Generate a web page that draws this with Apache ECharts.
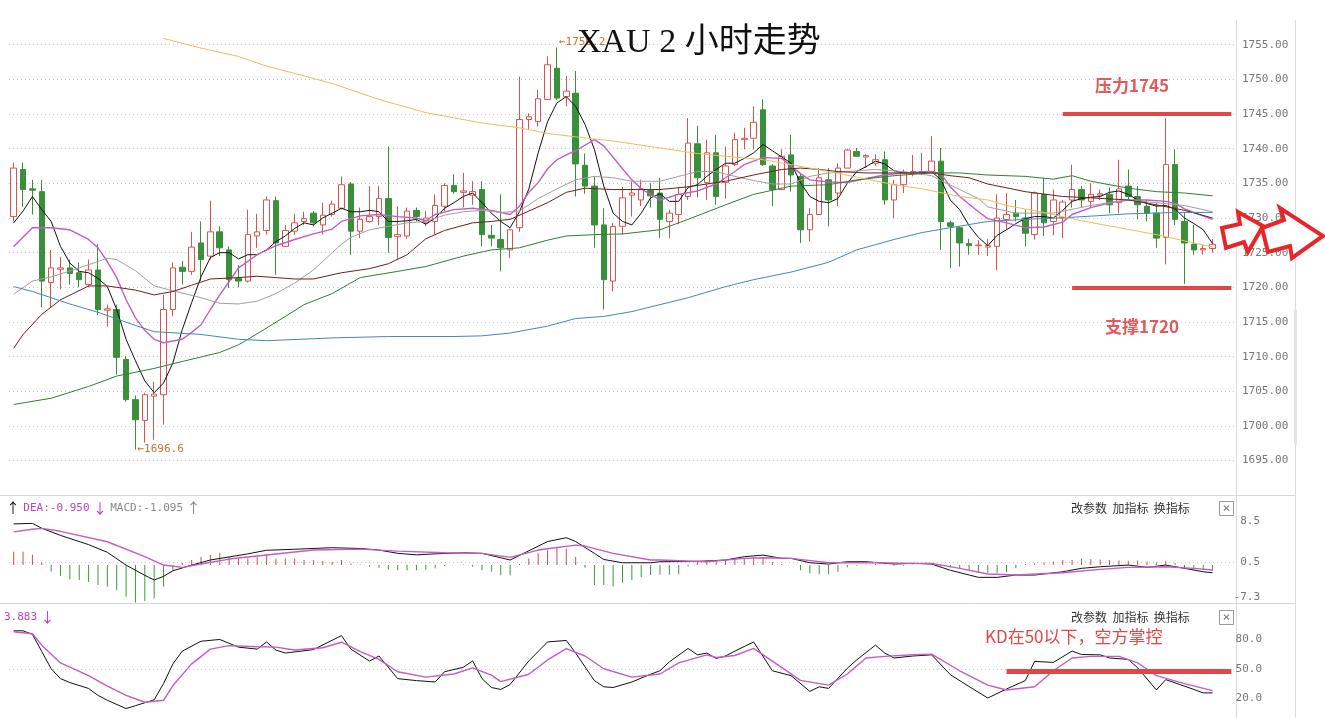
<!DOCTYPE html>
<html><head><meta charset="utf-8">
<script src="https://cdn.jsdelivr.net/npm/echarts@6/dist/echarts.min.js"></script>
<style>html,body{margin:0;padding:0;background:#fff}#c{width:1325px;height:718px}</style>
</head><body><div id="c"></div><script>
// ---- data: [open, close, low, high] ----
const ohlc = [
[1730.2,1737.2,1729.5,1738.0],[1737.0,1734.1,1731.6,1738.0],[1734.2,1734.0,1730.5,1735.5],[1733.8,1720.9,1717.1,1735.5],[1720.7,1722.8,1717.1,1725.4],
[1722.6,1722.8,1719.7,1724.4],[1722.8,1722.0,1720.4,1724.0],[1722.1,1721.1,1720.0,1723.6],[1720.4,1722.5,1720.0,1724.0],[1722.5,1716.8,1716.0,1726.2],
[1716.7,1716.9,1714.3,1717.5],[1716.8,1709.9,1707.4,1717.5],[1709.6,1703.8,1703.5,1710.1],[1703.8,1700.9,1696.6,1704.4],[1700.8,1704.5,1697.6,1704.8],
[1704.3,1704.6,1698.0,1706.4],[1704.5,1716.8,1700.2,1718.9],[1716.8,1722.8,1715.8,1723.6],[1722.9,1722.3,1720.4,1723.8],[1722.3,1725.8,1721.8,1728.0],
[1726.4,1724.0,1720.9,1729.5],[1724.5,1728.0,1724.0,1732.5],[1728.0,1725.7,1724.5,1728.8],[1725.4,1721.1,1719.9,1725.9],[1721.3,1720.9,1720.0,1723.2],
[1720.9,1727.6,1720.7,1731.2],[1727.4,1728.0,1725.7,1730.6],[1728.2,1732.6,1727.6,1733.1],[1732.5,1726.4,1721.8,1733.1],[1725.9,1728.2,1725.9,1729.0],
[1728.1,1729.3,1727.6,1730.6],[1729.5,1729.9,1729.0,1730.9],[1730.7,1729.3,1728.8,1731.0],[1729.0,1730.4,1727.6,1732.2],[1730.5,1732.0,1730.2,1732.5],
[1731.4,1734.8,1731.2,1736.0],[1734.9,1728.1,1724.7,1735.2],[1728.1,1729.8,1727.1,1731.5],[1729.5,1730.2,1729.3,1734.6],[1730.2,1732.8,1729.0,1734.6],
[1732.8,1727.2,1725.0,1740.3],[1727.3,1727.6,1724.0,1731.7],[1727.4,1731.0,1727.0,1731.5],[1731.1,1730.2,1729.5,1731.5],[1729.3,1730.0,1728.8,1731.0],
[1729.5,1731.8,1727.6,1733.4],[1731.7,1734.7,1731.0,1735.0],[1734.7,1733.8,1733.5,1736.3],[1733.7,1733.9,1731.5,1736.5],[1733.3,1733.8,1731.9,1735.3],
[1734.1,1727.6,1725.9,1735.3],[1727.5,1727.1,1725.9,1729.0],[1726.9,1725.7,1722.3,1733.4],[1725.4,1728.3,1724.2,1728.5],[1728.6,1744.2,1728.0,1750.4],
[1744.2,1744.6,1742.7,1745.1],[1743.9,1747.2,1743.2,1748.5],[1747.1,1752.1,1747.0,1753.3],[1751.6,1747.3,1747.0,1754.6],[1747.5,1748.3,1746.1,1750.5],
[1748.0,1737.8,1733.1,1751.2],[1737.6,1734.6,1733.5,1739.3],[1734.6,1729.0,1725.7,1736.0],[1729.0,1721.1,1716.8,1731.4],[1720.9,1728.8,1719.4,1729.3],
[1728.8,1732.9,1727.6,1734.5],[1733.3,1733.6,1730.2,1735.3],[1732.6,1734.2,1731.7,1735.5],[1734.0,1733.2,1731.5,1735.0],[1733.6,1729.8,1727.1,1735.8],
[1729.5,1730.7,1727.1,1731.2],[1730.5,1733.4,1729.1,1734.4],[1733.1,1740.8,1732.6,1744.4],[1740.7,1735.8,1733.0,1743.3],[1735.1,1739.4,1732.6,1741.3],
[1739.4,1733.1,1731.9,1742.0],[1735.1,1737.5,1732.8,1740.3],[1737.7,1741.3,1737.5,1742.3],[1741.3,1741.5,1739.9,1743.0],[1741.5,1743.8,1739.9,1746.1],
[1745.6,1737.7,1737.5,1747.1],[1737.5,1734.1,1731.7,1737.8],[1734.1,1738.9,1734.0,1739.9],[1739.1,1736.2,1733.8,1742.0],[1736.0,1728.3,1726.4,1736.5],
[1728.3,1730.5,1726.6,1731.4],[1730.5,1735.8,1730.5,1737.2],[1735.5,1732.6,1728.8,1737.2],[1733.6,1737.2,1731.7,1737.9],[1737.2,1739.8,1737.2,1740.0],
[1739.6,1738.9,1738.9,1740.1],[1738.8,1739.0,1737.2,1739.2],[1737.9,1738.4,1737.5,1739.2],[1738.4,1732.6,1731.9,1739.6],[1732.6,1734.8,1730.0,1735.5],
[1734.8,1736.5,1733.6,1737.0],[1736.4,1736.7,1736.0,1739.1],[1736.5,1736.7,1736.2,1739.4],[1736.7,1738.2,1736.4,1741.8],[1738.2,1729.5,1725.4,1740.1],
[1729.3,1728.8,1722.8,1729.6],[1728.6,1726.4,1723.0,1728.8],[1726.3,1726.0,1724.7,1727.0],[1726.0,1726.1,1724.7,1726.8],[1725.8,1726.0,1724.5,1727.0],
[1725.9,1730.0,1722.5,1733.4],[1729.8,1730.5,1728.3,1733.6],[1730.7,1730.2,1729.5,1732.6],[1730.0,1727.8,1725.9,1731.2],[1727.6,1733.6,1726.9,1733.8],
[1733.4,1729.3,1727.4,1735.8],[1729.5,1732.6,1727.5,1734.1],[1730.0,1732.3,1727.1,1732.6],[1732.6,1734.1,1731.5,1737.7],[1734.1,1732.6,1731.5,1734.6],
[1732.4,1733.4,1731.5,1735.0],[1733.3,1733.5,1732.6,1734.1],[1733.4,1731.9,1730.7,1734.4],[1732.2,1734.2,1730.7,1738.4],[1734.6,1733.1,1732.6,1737.0],
[1733.1,1731.9,1729.8,1734.6],[1731.7,1730.7,1729.5,1732.6],[1730.7,1727.1,1725.7,1732.2],[1727.2,1737.7,1723.3,1744.4],[1737.7,1729.8,1729.0,1739.9],
[1729.5,1726.4,1720.5,1730.7],[1726.2,1725.4,1724.7,1729.0],[1725.4,1725.6,1724.7,1726.2],[1725.6,1726.2,1725.0,1727.0]
];
const ma5 = [1729.3,1731.0,1733.1,1731.2,1729.5,1725.9,1723.5,1722.3,1722.1,1721.3,
1720.1,1716.8,1712.5,1709.4,1706.5,1704.8,1706.2,1709.1,1713.9,1717.8,
1721.5,1724.3,1725.0,1725.0,1724.1,1724.7,1724.7,1725.4,1726.6,1727.4,
1728.5,1729.3,1729.0,1730.0,1730.7,1731.4,1730.9,1730.9,1731.1,1730.9,
1729.5,1729.5,1729.6,1729.8,1729.1,1730.0,1731.4,1732.2,1733.1,1733.6,
1732.2,1730.7,1729.5,1728.6,1730.9,1734.2,1739.4,1743.9,1746.6,1747.5,
1746.1,1743.5,1739.9,1734.6,1730.7,1729.5,1729.0,1730.7,1732.9,1733.5,
1732.4,1732.4,1734.4,1734.8,1736.0,1737.0,1737.9,1737.9,1738.6,1739.4,
1740.6,1739.7,1738.8,1737.9,1735.1,1733.1,1732.4,1732.2,1732.8,1735.0,
1736.7,1737.4,1738.2,1737.8,1736.8,1736.5,1736.5,1736.5,1736.7,1735.5,
1732.6,1731.2,1728.9,1727.2,1726.0,1727.5,1728.3,1729.2,1729.9,1730.2,
1730.2,1730.0,1731.1,1732.4,1732.8,1733.0,1733.1,1733.7,1733.9,1733.4,
1732.6,1732.1,1731.7,1731.8,1731.3,1730.0,1729.2,1728.3,1726.3];
// [candle index, value] readings
const ma10 = [[0,1725.9],[2,1728.6],[4,1728.6],[6,1728.3],[8,1726.9],[9,1725.7],[10,1723.7],[11,1721.4],[12,1718.2],[13,1715.6],[14,1713.8],[15,1712.5],[16,1712.0],[18,1712.5],[19,1713.5],[20,1714.6],[21,1716.8],[22,1718.9],[23,1720.8],[24,1722.8],[26,1724.7],[28,1726.0],[30,1726.9],[32,1727.7],[34,1728.4],[35,1729.5],[37,1730.3],[39,1730.5],[41,1730.2],[43,1730.0],[44,1729.6],[45,1730.5],[47,1731.2],[49,1731.4],[51,1731.1],[53,1730.5],[54,1731.7],[55,1733.7],[56,1735.1],[57,1737.1],[58,1738.4],[59,1739.1],[60,1739.7],[62,1741.3],[63,1740.4],[65,1737.1],[66,1735.5],[67,1734.2],[69,1732.6],[71,1733.4],[73,1733.9],[75,1734.9],[77,1736.7],[78,1737.7],[80,1738.7],[82,1738.6],[84,1736.4],[85,1735.5],[87,1735.2],[89,1735.1],[91,1735.7],[93,1736.2],[95,1736.5],[98,1736.7],[99,1736.4],[100,1734.5],[101,1733.1],[103,1730.9],[104,1729.9],[106,1729.3],[108,1728.6],[110,1728.7],[112,1729.4],[113,1730.5],[115,1731.5],[117,1732.2],[119,1732.6],[121,1732.6],[123,1732.4],[124,1732.1],[125,1731.3],[126,1730.8],[127,1730.3],[128,1729.8]];
const ma20 = [[0,1719.0],[2,1720.9],[4,1721.5],[7,1722.8],[10,1724.2],[11,1724.0],[13,1722.4],[15,1720.2],[17,1719.5],[20,1718.5],[22,1717.7],[24,1717.6],[26,1718.0],[28,1719.1],[30,1720.6],[32,1722.5],[34,1725.0],[35,1726.2],[36,1727.2],[38,1728.3],[40,1728.8],[42,1729.3],[44,1729.5],[46,1730.4],[48,1730.9],[50,1731.1],[52,1730.8],[54,1731.0],[56,1732.8],[58,1734.2],[60,1735.5],[62,1736.0],[64,1735.8],[66,1735.3],[69,1735.3],[71,1736.0],[73,1736.7],[75,1736.7],[77,1736.0],[79,1735.4],[81,1734.9],[83,1734.9],[85,1736.0],[87,1736.5],[89,1736.7],[92,1737.0],[95,1736.7],[98,1736.1],[99,1735.4],[101,1734.1],[103,1732.8],[104,1731.6],[107,1730.7],[111,1730.7],[115,1731.8],[119,1732.6],[122,1732.2],[125,1731.8],[128,1730.9]];
const ma30 = [[0,1711.2],[1,1713.2],[3,1716.1],[5,1718.2],[8,1720.2],[10,1720.2],[13,1719.6],[15,1718.9],[17,1719.4],[19,1720.3],[21,1721.2],[24,1721.4],[26,1721.6],[28,1721.4],[30,1721.2],[32,1721.2],[35,1722.1],[38,1722.7],[40,1723.4],[42,1724.7],[44,1727.0],[46,1728.2],[49,1729.3],[51,1729.5],[53,1729.8],[55,1731.0],[57,1732.2],[59,1733.7],[61,1734.3],[64,1734.1],[69,1734.1],[72,1734.5],[76,1735.3],[79,1736.2],[82,1737.0],[84,1737.2],[86,1737.0],[88,1736.7],[91,1736.5],[98,1736.5],[100,1736.1],[102,1735.8],[104,1734.9],[108,1733.8],[112,1733.1],[115,1732.9],[119,1732.6],[122,1731.9],[125,1731.1],[128,1730.0]];
const ma60 = [[0,1703.1],[4,1704.0],[8,1705.7],[11,1707.2],[15,1708.3],[18,1709.3],[22,1710.6],[24,1711.7],[26,1713.3],[29,1715.8],[31,1717.5],[34,1719.1],[37,1721.4],[41,1722.3],[44,1723.0],[48,1724.5],[51,1725.4],[54,1725.7],[57,1726.8],[59,1727.4],[62,1727.6],[65,1727.7],[69,1728.3],[72,1729.8],[76,1731.9],[79,1733.4],[83,1734.6],[87,1734.8],[90,1735.5],[94,1736.1],[98,1736.5],[101,1736.5],[104,1736.2],[108,1736.0],[111,1735.6],[113,1736.1],[115,1735.3],[119,1734.3],[122,1733.8],[125,1733.6],[128,1733.2]];
const ma120 = [[0,1720.1],[2,1719.4],[6,1717.6],[9,1716.4],[13,1714.5],[15,1713.6],[20,1713.2],[24,1712.5],[27,1712.3],[34,1712.7],[40,1712.9],[47,1712.9],[50,1713.0],[53,1713.4],[57,1714.4],[60,1715.5],[63,1715.8],[66,1716.5],[69,1717.5],[72,1718.5],[76,1720.1],[79,1721.1],[83,1722.2],[87,1723.6],[90,1725.4],[94,1726.9],[97,1727.9],[100,1728.6],[104,1729.5],[108,1729.8],[113,1730.1],[119,1730.6],[124,1730.8],[128,1730.8]];
const ma250 = [[16,1755.9],[20,1754.5],[24,1753.3],[27,1751.9],[31,1750.5],[34,1749.4],[39,1747.1],[44,1745.2],[50,1743.7],[54,1743.0],[57,1742.2],[60,1741.7],[64,1741.1],[69,1740.1],[73,1739.3],[76,1738.9],[80,1738.4],[83,1737.7],[87,1736.7],[90,1735.9],[94,1734.8],[97,1734.2],[101,1733.1],[104,1732.6],[106,1731.8],[110,1730.8],[114,1729.6],[118,1728.6],[122,1727.6],[125,1726.7],[128,1725.8]];
const macdHist = [2.6,2.6,2.0,0.5,-1.3,-2.1,-2.8,-2.9,-3.3,-3.9,
-4.2,-4.9,-6.2,-7.4,-7.0,-6.5,-4.2,-1.0,0.4,1.0,
1.6,2.0,2.4,1.6,1.3,1.3,1.6,2.1,1.3,1.3,
1.3,1.0,1.0,0.85,0.65,1.0,0.3,0.1,-0.3,-0.5,
-0.85,-1.0,-1.0,-1.0,-0.9,-0.6,-0.2,0.0,0.1,-0.3,
-1.0,-1.3,-2.0,-2.0,0.2,1.3,2.3,2.9,3.45,3.25,
1.6,-0.5,-3.9,-3.9,-4.2,-3.45,-2.9,-2.3,-1.95,-1.9,
-1.9,-1.8,-0.2,0.6,1.0,1.0,1.0,1.1,1.3,1.6,
1.3,0.6,0.2,0.0,-1.0,-1.6,-1.8,-1.8,-1.3,-0.4,
-0.1,0.1,0.2,0.1,-0.1,-0.1,0.1,0.0,0.1,-0.2,
-0.4,-0.6,-1.0,-1.5,-1.6,-1.6,-1.4,-0.6,0.2,0.3,
0.5,0.7,1.0,1.0,1.3,1.2,1.1,1.0,0.9,0.8,
0.9,0.7,0.5,0.8,0.4,-0.6,-0.8,-1.0,-1.1];
const difPts = [[0,8.05],[2,8.15],[3,7.2],[5,5.8],[8,4.0],[10,2.5],[12,0.0],[14,-2.0],[15,-2.9],[16,-2.2],[17,-1.1],[19,0.0],[21,1.0],[23,1.6],[25,2.2],[27,2.9],[30,3.1],[34,3.4],[37,3.25],[39,2.94],[41,2.3],[43,2.0],[45,2.2],[48,2.4],[50,2.3],[53,1.0],[55,2.8],[57,4.6],[59,5.35],[60,4.6],[62,2.3],[63,1.1],[65,0.46],[68,0.46],[69,0.66],[72,0.7],[74,0.8],[76,1.0],[78,1.64],[80,1.96],[82,1.32],[83,1.32],[85,0.46],[87,0.21],[89,0.66],[91,0.66],[94,0.21],[96,0.34],[98,0.21],[100,-1.0],[103,-2.39],[105,-2.39],[107,-1.94],[109,-1.94],[112,-1.3],[114,-0.63],[116,-0.32],[119,0.01],[121,-0.44],[123,0.01],[125,-0.63],[127,-1.3],[128,-1.5]];
const deaPts = [[0,6.5],[2,7.0],[3,7.17],[5,6.6],[10,4.56],[14,1.64],[16,0.01],[18,-0.44],[20,0.21],[23,1.18],[28,2.16],[32,2.94],[37,3.13],[41,2.74],[46,2.41],[50,2.29],[53,1.51],[56,2.94],[60,3.91],[61,3.72],[64,2.29],[68,0.99],[69,0.99],[74,0.66],[78,1.32],[80,1.44],[83,1.32],[87,0.46],[92,0.46],[96,0.34],[98,0.34],[101,-0.63],[104,-1.74],[107,-1.94],[112,-1.49],[116,-0.83],[119,-0.44],[123,-0.32],[126,-0.63],[128,-0.95]];
const kPts = [[0,88.6],[1,88.6],[2,85.0],[3,67.5],[4,50],[5,40],[6,36],[8,30],[9,23],[10,18],[12,9.6],[13,12.5],[15,18.5],[16,35],[17,55],[18,68],[20,78],[22,79.8],[24,72],[26,70],[27,77.3],[28,69],[29,66],[32,69.5],[35,83.7],[36,70],[38,57.8],[39,63],[41,40],[43,38],[45,36.6],[46,47],[48,51.5],[49,58],[50,40],[51,31],[52,29],[53,34],[55,58],[57,77.3],[59,78.8],[60,66],[61,52],[62,38],[63,31.7],[64,31],[66,36.6],[68,44.5],[69,48],[70,57],[72,70.7],[73,64.2],[74,66],[75,60.5],[76,63],[77,68],[79,77.3],[81,48],[83,43],[85,27],[86,31.7],[87,30.1],[89,50.5],[90,59],[92,74],[93,66],[94,61],[96,63],[98,64.2],[100,44],[102,32],[104,20.3],[106,29.5],[108,38],[109,57.5],[111,56.5],[113,68],[114,64.5],[116,64.2],[117,61],[119,59.5],[120,51],[122,28.5],[123,39],[126,29],[127,25.5],[128,25.5]];
const dPts = [[0,87.6],[2,85.6],[3,74],[5,56],[8,43],[10,32.5],[12,23],[14,16],[16,18],[17,33],[19,55],[21,70],[23,73.5],[26,72.4],[28,72],[30,69.1],[33,71.4],[35,77],[37,67.5],[39,59.5],[41,47],[44,41.5],[47,44.7],[49,51],[51,43.5],[52,37],[55,44.5],[57,59],[59,70.5],[61,63],[63,50],[66,41.5],[69,44.7],[71,56],[74,64.2],[75,61.5],[77,63.5],[79,70.7],[81,57.8],[84,38.2],[87,33.4],[89,44.7],[91,61],[93,62.6],[96,64.2],[98,64.9],[101,48],[104,33.4],[106,28.5],[109,31.7],[111,48],[113,61],[115,62.6],[118,62.6],[120,56.1],[122,43.1],[125,34.9],[128,27.8]];
const macdTicks = [-7.3, 0.5, 8.5];
const kdTicks = [20, 50, 80];
const resistLevel = 1745, supportLevel = 1720, kdLevel = 47;
const highMark = [58, 1754.6, '1756.2'], lowMark = [13, 1696.6, '1696.6'];
const SLOTS = 131;

// ---- chart ----
const cats = Array.from({length: SLOTS}, (_, i) => i);
const mono = "'DejaVu Sans Mono', monospace";
const cjk = "'Noto Sans CJK SC', sans-serif";
const RED = '#d9534f', GRN = '#3a8f3a', ANN = '#e04848';
const dotted = {show: true, lineStyle: {color: '#c8c8c8', type: [1, 3], width: 1}};
const gL = 9, gW = 1227;
const chart = echarts.init(document.getElementById('c'), null, {renderer: 'canvas'});
function xa(i) { return {type: 'category', gridIndex: i, data: cats, boundaryGap: true, axisLine: {show: false}, axisTick: {show: false}, axisLabel: {show: false}, splitLine: {show: false}}; }
function line(name, data, color, xi, yi, w) {
  return {name, type: 'line', data, xAxisIndex: xi, yAxisIndex: yi, symbol: 'none', z: 4,
    lineStyle: {color, width: w || 1}, itemStyle: {color}, silent: true};
}
const option = {
  animation: false,
  backgroundColor: '#fff',
  grid: [
    {left: gL, width: gW, top: 10, height: 485.3},
    {left: gL, width: gW, top: 497, height: 105.5},
    {left: gL, width: gW, top: 609.75, height: 112.75}
  ],
  xAxis: [xa(0), xa(1), xa(2)],
  yAxis: [
    {type: 'value', gridIndex: 0, position: 'right', min: 1690, max: 1760, interval: 5, scale: true,
     axisLine: {show: false}, axisTick: {show: false},
     axisLabel: {color: '#777', fontFamily: mono, fontSize: 11, margin: 6, showMinLabel: false, showMaxLabel: false, formatter: v => v.toFixed(2)},
     splitLine: Object.assign({showMinLine: false, showMaxLine: false}, dotted)},
    {type: 'value', gridIndex: 1, position: 'right', min: -7.3, max: 13.3,
     axisLine: {show: false}, axisTick: {show: false, customValues: macdTicks},
     axisLabel: {customValues: macdTicks, color: '#777', fontFamily: mono, fontSize: 11, margin: 24, align: 'right', verticalAlignMinLabel: 'bottom', formatter: v => v.toFixed(1)},
     splitLine: Object.assign({showMinLine: false, showMaxLine: false}, dotted)},
    {type: 'value', gridIndex: 2, position: 'right', min: 0, max: 110,
     axisLine: {show: false}, axisTick: {show: false, customValues: kdTicks},
     axisLabel: {customValues: kdTicks, color: '#777', fontFamily: mono, fontSize: 11, margin: 26, align: 'right', formatter: v => v.toFixed(1)},
     splitLine: Object.assign({showMinLine: false, showMaxLine: false}, dotted)}
  ],
  series: [
    {type: 'candlestick', name: 'XAU', data: ohlc, xAxisIndex: 0, yAxisIndex: 0, barWidth: 6, z: 2,
     itemStyle: {color: '#fff', color0: GRN, borderColor: RED, borderColor0: GRN, borderWidth: 1},
     markLine: {silent: true, symbol: ['none', 'none'], label: {show: false}, animation: false,
       lineStyle: {color: ANN, width: 4, type: 'solid'},
       data: [[{coord: [112, resistLevel]}, {coord: [130, resistLevel]}],
              [{coord: [113, supportLevel]}, {coord: [130, supportLevel]}]]},
     markPoint: {symbol: 'circle', symbolSize: 0, silent: true, animation: false,
       label: {show: true, position: 'right', distance: 2, color: '#c8742f', fontFamily: mono, fontSize: 11, formatter: p => '\u2190' + p.data.name},
       data: [{coord: [highMark[0], highMark[1]], name: highMark[2], label: {offset: [0, -5]}},
              {coord: [lowMark[0], lowMark[1]], name: lowMark[2]}]}
    },
    line('MA5', ma5, '#111', 0, 0),
    line('MA10', ma10, '#c55bc5', 0, 0, 1.4),
    line('MA20', ma20, '#a0a0a0', 0, 0),
    line('MA30', ma30, '#6e1f1f', 0, 0),
    line('MA60', ma60, '#2f7f35', 0, 0),
    line('MA120', ma120, '#3d8db5', 0, 0),
    line('MA250', ma250, '#e8c15a', 0, 0),
    {type: 'bar', name: 'MACD', data: macdHist, xAxisIndex: 1, yAxisIndex: 1, barWidth: 1, silent: true,
     itemStyle: {color: p => p.value >= 0 ? '#c85050' : '#3a9a3a'}},
    line('DIF', difPts, '#111', 1, 1),
    line('DEA', deaPts, '#c55bc5', 1, 1, 1.4),
    line('K', kPts, '#111', 2, 2),
    Object.assign(line('D', dPts, '#c55bc5', 2, 2, 1.4), {
      markLine: {silent: true, symbol: ['none', 'none'], label: {show: false}, animation: false,
        lineStyle: {color: ANN, width: 5, type: 'solid'},
        data: [[{coord: [105.5, kdLevel]}, {coord: [130, kdLevel]}]]}})
  ],
  graphic: [
    {type: 'line', shape: {x1: 0, y1: 495.5, x2: 1295, y2: 495.5}, style: {stroke: '#d8d8d8', lineWidth: 1}, silent: true},
    {type: 'line', shape: {x1: 0, y1: 603.5, x2: 1295, y2: 603.5}, style: {stroke: '#d8d8d8', lineWidth: 1}, silent: true},
    {type: 'line', shape: {x1: 1236.5, y1: 20, x2: 1236.5, y2: 718}, style: {stroke: '#dcdcdc', lineWidth: 1}, silent: true},
    {type: 'line', shape: {x1: 1295.5, y1: 20, x2: 1295.5, y2: 718}, style: {stroke: '#dcdcdc', lineWidth: 1}, silent: true},
    {type: 'rect', shape: {x: 1294, y: 310, width: 3, height: 135}, style: {fill: '#e4e4e4'}, silent: true},
    {type: 'text', x: 577, y: 43, style: {text: 'XAU 2 小时走势', font: "34px 'Liberation Serif', 'Noto Sans CJK SC', serif", fill: '#111', verticalAlign: 'middle'}, z: 10},
    {type: 'text', x: 1095, y: 86, style: {text: '压力1745', font: "bold 17px " + cjk, fill: ANN, verticalAlign: 'middle', opacity: 0.9}, z: 10},
    {type: 'text', x: 1105, y: 327, style: {text: '支撑1720', font: "bold 17px " + cjk, fill: ANN, verticalAlign: 'middle', opacity: 0.9}, z: 10},
    {type: 'text', x: 985, y: 637, style: {text: 'KD在50以下，空方掌控', font: "17px " + cjk, fill: ANN, verticalAlign: 'middle'}, z: 10},
    {type: 'polygon', shape: {points: [[1222,228],[1240,224],[1238,212],[1263,226],[1248,252],[1244,242],[1226,248]]}, style: {fill: '#fff', stroke: '#e8262a', lineWidth: 4, lineJoin: 'miter'}, z: 10},
    {type: 'polygon', shape: {points: [[1262,228],[1284,220],[1280,208],[1323,236],[1292,258],[1290,246],[1268,252]]}, style: {fill: '#fff', stroke: '#e8262a', lineWidth: 4, lineJoin: 'miter'}, z: 10},
    {type: 'text', x: 6, y: 508, style: {text: '{ka|↑} {m|DEA:-0.950} {ma|↓} {g|MACD:-1.095} {ga|↑}', verticalAlign: 'middle',
      rich: {ka: {fill: '#111', font: '14px ' + cjk}, m: {fill: '#c040c0', font: '11px ' + mono}, ma: {fill: '#c040c0', font: '14px ' + cjk},
             g: {fill: '#888', font: '11px ' + mono}, ga: {fill: '#888', font: '14px ' + cjk}}}, z: 10},
    {type: 'text', x: 4, y: 617, style: {text: '{m|3.883} {ma|↓}', verticalAlign: 'middle',
      rich: {m: {fill: '#c040c0', font: '11px ' + mono}, ma: {fill: '#c040c0', font: '14px ' + cjk}}}, z: 10},
    {type: 'text', x: 1071, y: 508, style: {text: '改参数  加指标  换指标', fill: '#333', font: '12px ' + cjk, verticalAlign: 'middle'}, z: 10},
    {type: 'text', x: 1071, y: 617, style: {text: '改参数  加指标  换指标', fill: '#333', font: '12px ' + cjk, verticalAlign: 'middle'}, z: 10},
    {type: 'rect', shape: {x: 1219.5, y: 501.5, width: 14, height: 14}, style: {fill: '#fff', stroke: '#999', lineWidth: 1}, z: 10},
    {type: 'text', x: 1226.5, y: 508.5, style: {text: '×', fill: '#777', font: '13px ' + mono, align: 'center', verticalAlign: 'middle'}, z: 11},
    {type: 'rect', shape: {x: 1219.5, y: 610.5, width: 14, height: 14}, style: {fill: '#fff', stroke: '#999', lineWidth: 1}, z: 10},
    {type: 'text', x: 1226.5, y: 617.5, style: {text: '×', fill: '#777', font: '13px ' + mono, align: 'center', verticalAlign: 'middle'}, z: 11}
  ]
};
chart.setOption(option);
</script></body></html>
